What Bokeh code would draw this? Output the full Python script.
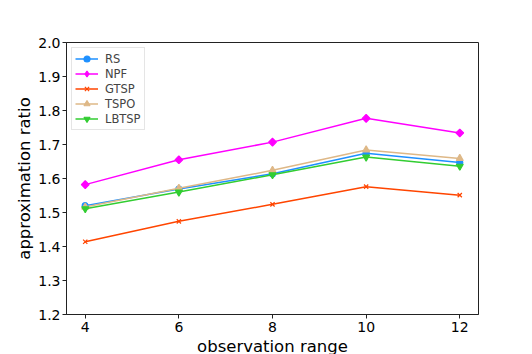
import math
from bokeh.plotting import figure
from bokeh.embed import file_html
from bokeh.resources import INLINE
from bokeh.models import Range1d, FixedTicker, NumeralTickFormatter

x_vals = [4, 6, 8, 10, 12]
rs = [1.520, 1.569, 1.614, 1.674, 1.647]
npf = [1.582, 1.655, 1.707, 1.777, 1.734]
gtsp = [1.414, 1.474, 1.524, 1.576, 1.551]
tspo = [1.516, 1.571, 1.624, 1.684, 1.659]
lbtsp = [1.511, 1.560, 1.611, 1.663, 1.636]
y_ticks = [1.2, 1.3, 1.4, 1.5, 1.6, 1.7, 1.8, 1.9, 2.0]

FONT = "DejaVu Sans"

p = figure(width=532, height=354, output_backend="svg", toolbar_location=None,
           x_range=Range1d(3.6, 12.4), y_range=Range1d(1.2, 2.0),
           min_border_left=66, min_border_right=54, min_border_top=42, min_border_bottom=40)
p.frame_width = 412
p.frame_height = 272

series = [
    ("RS", rs, "#1E90FF", "circle", 6, 0.0),
    ("NPF", npf, "#FF00FF", "square", 5.5, math.pi / 4),
    ("GTSP", gtsp, "#FF4500", "x", 6, 0.0),
    ("TSPO", tspo, "#DEB887", "triangle", 7, 0.0),
    ("LBTSP", lbtsp, "#32CD32", "inverted_triangle", 7, 0.0),
]
for name, ys, col, mk, sz, ang in series:
    p.line(x_vals, ys, line_color=col, line_width=1.5, legend_label=name)
    if ang:
        # rotated square for the data points; a hidden diamond renderer for the legend
        p.scatter(x_vals, ys, marker=mk, size=sz, angle=ang, fill_color=col,
                  line_color=col, line_width=1.2)
        proxy = p.scatter(x_vals, ys, marker="diamond", size=9, fill_color=col,
                          line_color=col, line_width=1.2, legend_label=name)
        proxy.visible = False
    else:
        p.scatter(x_vals, ys, marker=mk, size=sz, fill_color=col, line_color=col,
                  line_width=1.2, legend_label=name)

p.xgrid.visible = False
p.ygrid.visible = False
p.outline_line_color = "#222222"
p.outline_line_width = 1
p.background_fill_color = "white"
p.border_fill_color = "white"

p.xaxis.ticker = FixedTicker(ticks=x_vals)
p.yaxis.ticker = FixedTicker(ticks=y_ticks)
p.yaxis.formatter = NumeralTickFormatter(format="0.0")

for ax in (p.xaxis, p.yaxis):
    ax.major_tick_in = 0
    ax.major_tick_out = 4
    ax.minor_tick_line_color = None
    ax.axis_line_color = "#222222"
    ax.major_tick_line_color = "#222222"
    ax.major_label_text_font = FONT
    ax.major_label_text_font_size = "14px"
    ax.major_label_text_color = "black"
    ax.axis_label_text_font = FONT
    ax.axis_label_text_font_size = "16.5px"
    ax.axis_label_text_font_style = "normal"
    ax.axis_label_text_color = "black"

p.xaxis.axis_label = "observation range"
p.yaxis.axis_label = "approximation ratio"
p.xaxis.major_label_standoff = 3
p.xaxis.axis_label_standoff = 2
p.yaxis.major_label_standoff = 2
p.yaxis.axis_label_standoff = 1

lg = p.legend[0]
lg.location = "top_left"
lg.label_text_font = FONT
lg.label_text_font_size = "11.5px"
lg.glyph_width = 23
lg.glyph_height = 15
lg.label_height = 15
lg.spacing = 0
lg.padding = 3
lg.margin = 5
lg.label_standoff = 7
lg.border_line_color = "#cccccc"
lg.border_line_width = 1
lg.background_fill_alpha = 0.8

open("out.html", "w").write(file_html(p, INLINE))
